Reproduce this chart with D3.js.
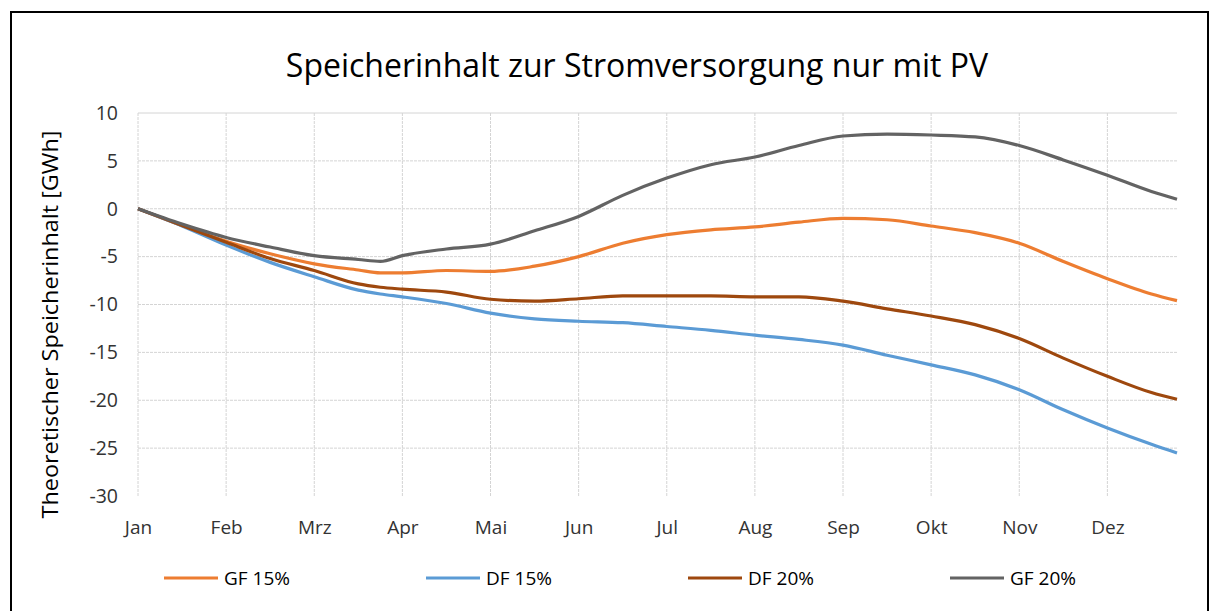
<!DOCTYPE html>
<html>
<head>
<meta charset="utf-8">
<script src="https://cdn.jsdelivr.net/npm/d3@7"></script>
<style>
  body { margin: 0; background: #fff; }
  svg { font-family: "Open Sans", "Noto Sans", sans-serif; }
</style>
</head>
<body>
<div id="chart"></div>
<script>
// month labels of the category axis
const months = ["Jan", "Feb", "Mrz", "Apr", "Mai", "Jun", "Jul", "Aug", "Sep", "Okt", "Nov", "Dez"];
const yTicks = [10, 5, 0, -5, -10, -15, -20, -25, -30];

// x positions in months (0 = Jan)
const t = [0, 0.5, 1, 1.5, 2, 2.5, 2.75, 3, 3.5, 4, 4.5, 5, 5.5, 6, 6.5, 7, 7.5, 8, 8.5, 9, 9.5, 10, 10.5, 11, 11.5, 11.79];

const gf15 = [0, -1.75, -3.4, -4.7, -5.75, -6.4, -6.7, -6.7, -6.45, -6.55, -6.0, -5.0, -3.6, -2.7, -2.2, -1.9, -1.4, -1.0, -1.15, -1.8, -2.5, -3.6, -5.5, -7.3, -8.9, -9.6];
const df15 = [0, -1.8, -3.8, -5.6, -7.1, -8.5, -8.9, -9.2, -9.9, -10.9, -11.5, -11.75, -11.9, -12.3, -12.7, -13.2, -13.65, -14.25, -15.3, -16.3, -17.35, -18.9, -21.0, -22.9, -24.6, -25.5];
const df20 = [0, -1.75, -3.5, -5.2, -6.45, -7.85, -8.2, -8.4, -8.7, -9.45, -9.65, -9.4, -9.1, -9.1, -9.1, -9.2, -9.2, -9.65, -10.45, -11.2, -12.1, -13.55, -15.6, -17.5, -19.2, -19.9];
const gf20 = [0, -1.6, -3.0, -4.0, -4.9, -5.3, -5.5, -4.9, -4.2, -3.7, -2.3, -0.8, 1.4, 3.2, 4.6, 5.4, 6.6, 7.6, 7.8, 7.7, 7.5, 6.6, 5.1, 3.5, 1.8, 1.0];

const series = [
  { name: "GF 15%", values: gf15, color: "#ED7D31" },
  { name: "DF 15%", values: df15, color: "#5B9BD5" },
  { name: "DF 20%", values: df20, color: "#9E480E" },
  { name: "GF 20%", values: gf20, color: "#636363" }
];

const W = 1210, H = 611;
const margin = { top: 113, right: 33, bottom: 115, left: 138 };
const innerW = W - margin.left - margin.right;
const innerH = H - margin.top - margin.bottom;

const svg = d3.select("#chart").append("svg")
  .attr("width", W)
  .attr("height", H);

// outer chart border
svg.append("rect")
  .attr("x", 11).attr("y", 12)
  .attr("width", 1197).attr("height", 640)
  .attr("fill", "none")
  .attr("stroke", "#000")
  .attr("stroke-width", 2);

const g = svg.append("g")
  .attr("transform", `translate(${margin.left},${margin.top})`);

const x = d3.scaleLinear().domain([0, 11.79]).range([0, innerW]);
const y = d3.scaleLinear().domain([-30, 10]).range([innerH, 0]);

// horizontal gridlines
g.append("g")
  .selectAll("line")
  .data(yTicks.filter(d => d > -30))
  .join("line")
  .attr("x1", 0).attr("x2", innerW)
  .attr("y1", d => y(d)).attr("y2", d => y(d))
  .attr("stroke", "#d4d4d4")
  .attr("stroke-dasharray", d => d === 10 ? null : "3,1");

// vertical gridlines at month starts
g.append("g")
  .selectAll("line")
  .data(d3.range(months.length))
  .join("line")
  .attr("x1", d => x(d)).attr("x2", d => x(d))
  .attr("y1", 0).attr("y2", innerH)
  .attr("stroke", "#d4d4d4")
  .attr("stroke-dasharray", "3,1");

// y axis labels (plain hyphen minus like the original)
const yAxis = d3.axisLeft(y)
  .tickValues(yTicks)
  .tickFormat(d => String(d))
  .tickSize(0)
  .tickPadding(20);
g.append("g")
  .call(yAxis)
  .call(a => a.select(".domain").remove())
  .selectAll("text")
  .attr("font-size", 19.5)
  .attr("fill", "#333")
  .attr("font-family", "Open Sans, sans-serif");

// x axis labels
const xAxis = d3.axisBottom(x)
  .tickValues(d3.range(months.length))
  .tickFormat(i => months[i])
  .tickSize(0)
  .tickPadding(25);
g.append("g")
  .attr("transform", `translate(0,${innerH})`)
  .call(xAxis)
  .call(a => a.select(".domain").remove())
  .selectAll("text")
  .attr("font-size", 19)
  .attr("fill", "#333")
  .attr("font-family", "Open Sans, sans-serif");

// lines
const line = d3.line()
  .x((d, i) => x(t[i]))
  .y(d => y(d))
  .curve(d3.curveMonotoneX);

g.append("g")
  .selectAll("path")
  .data(series)
  .join("path")
  .attr("d", d => line(d.values))
  .attr("fill", "none")
  .attr("stroke", d => d.color)
  .attr("stroke-width", 3.2)
  .attr("stroke-linejoin", "round");

// title
svg.append("text")
  .attr("x", 637).attr("y", 77)
  .attr("text-anchor", "middle")
  .attr("font-size", 32)
  .attr("fill", "#000")
  .text("Speicherinhalt zur Stromversorgung nur mit PV");

// y axis title
svg.append("text")
  .attr("transform", `translate(58,${margin.top + innerH / 2 + 20}) rotate(-90)`)
  .attr("text-anchor", "middle")
  .attr("font-size", 21)
  .attr("textLength", 388)
  .attr("lengthAdjust", "spacingAndGlyphs")
  .attr("fill", "#000")
  .text("Theoretischer Speicherinhalt [GWh]");

// legend
const legend = svg.append("g")
  .selectAll("g")
  .data(series)
  .join("g")
  .attr("transform", (d, i) => `translate(${164 + i * 262},578)`);

legend.append("line")
  .attr("x1", 0).attr("x2", 54)
  .attr("stroke", d => d.color)
  .attr("stroke-width", 3.2);

legend.append("text")
  .attr("x", 60).attr("y", 7)
  .attr("font-size", 19)
  .attr("fill", "#000")
  .text(d => d.name);
</script>
</body>
</html>
